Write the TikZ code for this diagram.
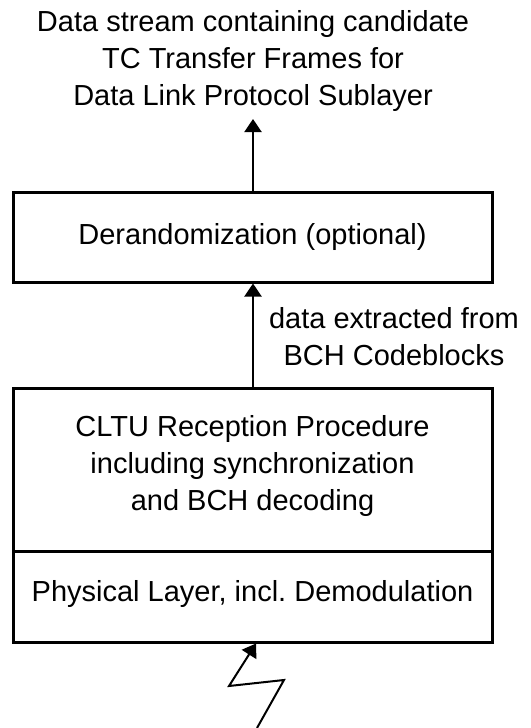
\documentclass[tikz,border=0pt]{standalone}
\usepackage{fontspec}
\setmainfont{Liberation Sans}
\usetikzlibrary{arrows.meta}
\frenchspacing
\begin{document}
\begin{tikzpicture}[x=1pt,y=-1pt,
  txt/.style={font=\fontsize{29}{37}\selectfont, align=center, inner sep=0pt},
  boxline/.style={line width=3pt},
  conn/.style={line width=2pt, -{Triangle[width=17pt,length=13pt]}},
  bolt/.style={line width=2pt, line join=miter, -{Triangle[width=17pt,length=13pt]}}]
\useasboundingbox (0,0) rectangle (530,728);
\node[txt] (title) at (253,61) {Data stream containing candidate\\TC Transfer Frames for\\Data Link Protocol Sublayer};
\node[draw, boxline, minimum width=479pt, minimum height=90pt, inner sep=0pt] (derand) at (252.5,237) {};
\node[txt] (derandtxt) at (252.5,237) {Derandomization (optional)};
\node[draw, boxline, minimum width=479pt, minimum height=163pt, inner sep=0pt] (cltu) at (252.5,469.5) {};
\node[txt] (cltutxt) at (252.5,466) {CLTU Reception Procedure\\including synchronization\\and BCH decoding};
\node[draw, boxline, minimum width=479pt, minimum height=91pt, inner sep=0pt] (phys) at (252.5,596.5) {};
\node[txt] (phystxt) at (252.5,594) {Physical Layer, incl.\ Demodulation};
\node[txt] (lbl) at (394,337) {data extracted from\\BCH Codeblocks};
\coordinate (t1) at (253,119);
\draw[conn] (derand.north -| t1) -- (t1);
\draw[conn] (cltu.north -| t1) -- (derand.south -| t1);
\coordinate (b0) at (257,728);
\coordinate (b1) at (284,680);
\coordinate (b2) at (229,686);
\draw[bolt] (b0) -- (b1) -- (b2) -- (phys.south -| 256,0);
\end{tikzpicture}
\end{document}
